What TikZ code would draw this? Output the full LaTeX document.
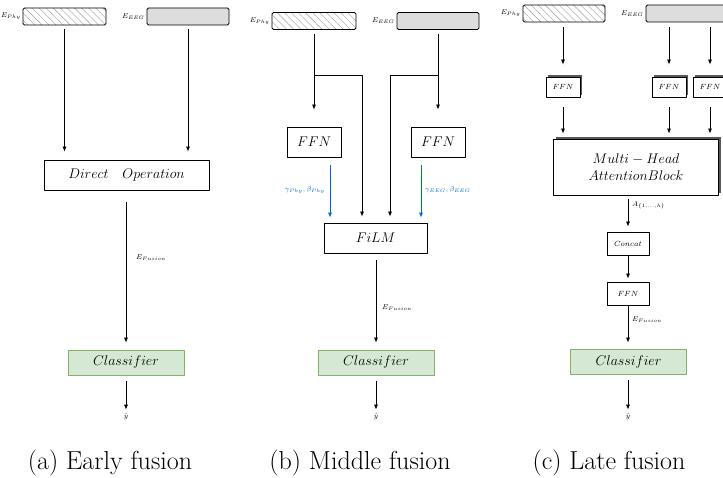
\documentclass[tikz,border=0pt]{standalone}
\usepackage{fix-cm}
\usetikzlibrary{positioning,patterns.meta,shadows,arrows.meta}

\definecolor{clsfill}{HTML}{D5E8D4}
\definecolor{clsdraw}{HTML}{82B366}
\definecolor{filmblue}{HTML}{0066CC}
\definecolor{eeggray}{HTML}{DDDDDD}

\begin{document}
\begin{tikzpicture}[x=1pt, y=-1pt, line join=round,
    box/.style={draw, line width=0.75pt, fill=white, inner sep=0pt, font=\fontsize{14}{17}\selectfont},
    ebox/.style={draw, line width=0.75pt, rounded corners=1.5pt, minimum width=82pt, minimum height=17pt, inner sep=0pt},
    phybox/.style={ebox, pattern={Lines[angle=-45,distance=5pt,line width=0.4pt]}, pattern color=gray!80},
    eegbox/.style={ebox, fill=eeggray},
    clsbox/.style={box, fill=clsfill, draw=clsdraw, minimum width=116pt, minimum height=25pt},
    smallbox/.style={box, font=\fontsize{7.5}{9}\selectfont, minimum width=42pt, minimum height=23pt},
    deepbox/.style={smallbox, general shadow={fill=black!65, shadow xshift=2pt, shadow yshift=2pt}},
    tinytxt/.style={inner sep=1pt, font=\fontsize{7}{8}\selectfont},
    captxt/.style={inner sep=0pt, font=\fontsize{26}{30}\selectfont},
    link/.style={-{Latex[length=5pt,width=4pt]}, line width=0.75pt},
    bluelink/.style={link, draw=filmblue, fill=filmblue}]
    \useasboundingbox (0,0) rectangle (723,478);

    % (a) early fusion
    \node[phybox, minimum width=83pt] (ephyA) at (64.5,16.5) {};
    \node[eegbox] (eeegA) at (188,16.5) {};
    \node[tinytxt, left=1pt of ephyA] (lphyA) {$E_{Phy}$};
    \node[tinytxt, left=1pt of eeegA] (leegA) {$E_{EEG}$};
    \node[box, minimum width=165pt, minimum height=30pt] (dirop) at (126.5,175) {$Direct\quad Operation$};
    \node[clsbox] (clsA) at (126,362.5) {$Classifier$};
    \node[tinytxt] (yA) at (126,417) {$\hat{y}$};
    \node[tinytxt, anchor=west] (fuA) at (135,258) {$E_{Fusion}$};
    \node[captxt] (capA) at (110,463) {(a) Early fusion};
    \draw[link, shorten <=4pt, shorten >=8pt] (ephyA.south) -- (ephyA.south |- dirop.north);
    \draw[link, shorten <=4pt, shorten >=8pt] (eeegA.south) -- (eeegA.south |- dirop.north);
    \draw[link, shorten <=12pt, shorten >=7pt] (clsA.north |- dirop.south) -- (clsA.north);
    \draw[link, shorten <=6pt, shorten >=3pt] (clsA.south) -- (yA.north);

    % (b) middle fusion
    \node[phybox, minimum width=84pt] (ephyB) at (314,21) {};
    \node[eegbox] (eeegB) at (438,21) {};
    \node[tinytxt, left=1pt of ephyB] (lphyB) {$E_{Phy}$};
    \node[tinytxt, left=1pt of eeegB] (leegB) {$E_{EEG}$};
    \node[box, minimum width=54pt, minimum height=30pt] (ffnB1) at (314,142) {$FFN$};
    \node[box, minimum width=54pt, minimum height=30pt] (ffnB2) at (438,142) {$FFN$};
    \node[box, minimum width=103pt, minimum height=30pt] (film) at (375.5,238) {$FiLM$};
    \node[clsbox] (clsB) at (376,362.5) {$Classifier$};
    \node[tinytxt] (yB) at (376,417) {$\hat{y}$};
    \node[tinytxt, anchor=west] (fuB) at (381,308) {$E_{Fusion}$};
    \node[tinytxt, text=filmblue, anchor=east] (gphy) at (326,190) {$\gamma_{Phy},\beta_{Phy}$};
    \node[tinytxt, text=filmblue, anchor=west] (geeg) at (424,190) {$\gamma_{EEG},\beta_{EEG}$};
    \node[captxt] (capB) at (360,463) {(b) Middle fusion};
    \coordinate (brB1) at (314,75);
    \coordinate (brB2) at (438,75);
    \draw[link, shorten <=4pt, shorten >=17pt] (ephyB.south) -- (ffnB1.north);
    \draw[link, shorten <=4pt, shorten >=17pt] (eeegB.south) -- (ffnB2.north);
    \draw[link, shorten >=6pt] (brB1) -| ([xshift=-13.5pt]film.north);
    \draw[link, shorten >=6pt] (brB2) -| ([xshift=14.5pt]film.north);
    \draw[bluelink, shorten <=8pt, shorten >=5pt] ([xshift=16pt]ffnB1.south) -- ([xshift=16pt]ffnB1.south |- film.north);
    \draw[bluelink, shorten <=8pt, shorten >=5pt] ([xshift=-17pt]ffnB2.south) -- ([xshift=-17pt]ffnB2.south |- film.north);
    \draw[link, shorten <=7pt, shorten >=7pt] (clsB.north |- film.south) -- (clsB.north);
    \draw[link, shorten <=6pt, shorten >=3pt] (clsB.south) -- (yB.north);

    % (c) late fusion
    \node[phybox] (ephyC) at (564,13.5) {};
    \node[eegbox] (eeegC) at (687,13.5) {};
    \node[tinytxt, left=1pt of ephyC] (lphyC) {$E_{Phy}$};
    \node[tinytxt, left=1pt of eeegC] (leegC) {$E_{EEG}$};
    \node[deepbox, minimum width=34pt, minimum height=20pt] (ffnC1) at (563,87) {$FFN$};
    \node[deepbox, minimum width=34pt, minimum height=20pt] (ffnC2) at (669,87) {$FFN$};
    \node[deepbox, minimum width=34pt, minimum height=20pt] (ffnC3) at (710,87) {$FFN$};
    \node[box, align=center, minimum width=165pt, minimum height=56pt,
          general shadow={fill=black!65, shadow xshift=2.5pt, shadow yshift=2pt}] (mha) at (636,167)
          {$Multi-Head$\\$AttentionBlock$};
    \node[smallbox] (concat) at (628,243.5) {$Concat$};
    \node[smallbox] (ffnC4) at (628,293.5) {$FFN$};
    \node[clsbox] (clsC) at (628.5,361.5) {$Classifier$};
    \node[tinytxt] (yC) at (628,417) {$\hat{y}$};
    \node[tinytxt, anchor=west] (att) at (631,205) {$A_{\{1,\ldots,h\}}$};
    \node[tinytxt, anchor=west] (fuC) at (631,320) {$E_{Fusion}$};
    \node[captxt] (capC) at (609,463) {(c) Late fusion};
    \draw[link, shorten <=5pt, shorten >=12pt] (ffnC1.north |- ephyC.south) -- (ffnC1.north);
    \foreach \f in {ffnC2,ffnC3}{%
        \draw[link, shorten <=5pt, shorten >=12pt] (\f.north |- eeegC.south) -- (\f.north);
    }%
    \foreach \f in {ffnC1,ffnC2,ffnC3}{%
        \draw[link, shorten <=10pt, shorten >=5pt] (\f.south) -- (\f.south |- mha.north);
    }%
    \draw[link, shorten <=4pt, shorten >=5pt] (concat.north |- mha.south) -- (concat.north);
    \draw[link, shorten >=3pt] (concat.south) -- (ffnC4.north);
    \draw[link, shorten >=6pt] (ffnC4.south) -- (ffnC4.south |- clsC.north);
    \draw[link, shorten <=6pt, shorten >=3pt] (yC.north |- clsC.south) -- (yC.north);
\end{tikzpicture}
\end{document}
